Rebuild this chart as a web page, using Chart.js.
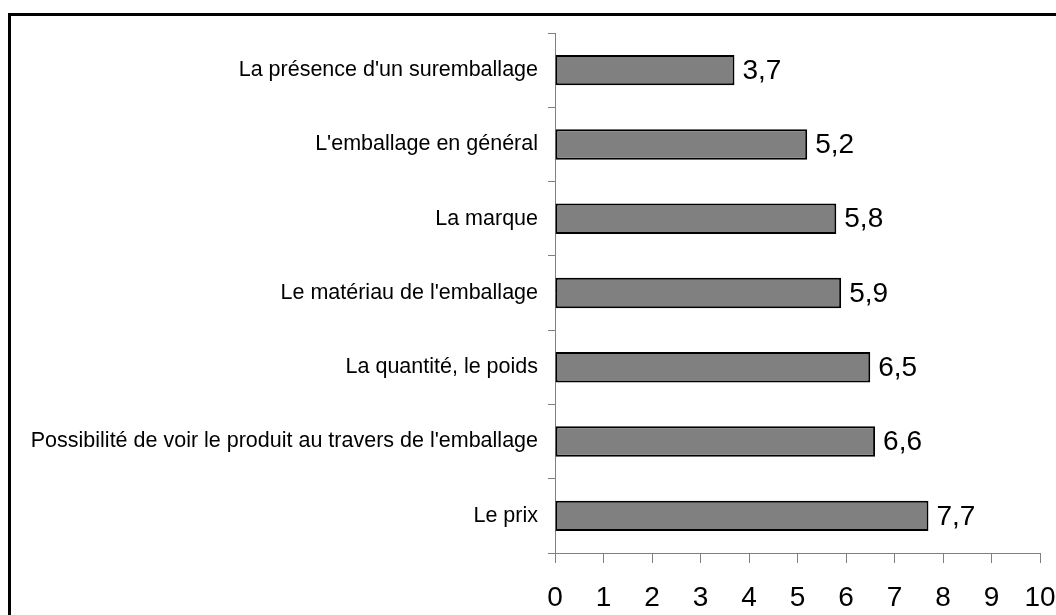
<!DOCTYPE html>
<html>
<head>
<meta charset="utf-8">
<script src="https://cdn.jsdelivr.net/npm/chart.js@4/dist/chart.umd.min.js"></script>
<style>
  html, body { margin:0; padding:0; background:#fff; overflow:hidden; width:1056px; height:615px; }
  #frame { position:absolute; left:8px; top:13px; width:2000px; height:2000px; border:3px solid #000; box-sizing:border-box; }
  #wrap { position:absolute; left:0; top:0; width:1056px; height:615px; }
</style>
</head>
<body>
<div id="frame"></div>
<div id="wrap"><canvas id="c" width="1056" height="615"></canvas></div>
<script>
const categories = [
  "La présence d'un suremballage",
  "L'emballage en général",
  "La marque",
  "Le matériau de l'emballage",
  "La quantité, le poids",
  "Possibilité de voir le produit au travers de l'emballage",
  "Le prix"
];
const values = [3.7, 5.2, 5.8, 5.9, 6.5, 6.6, 7.7];
const xTicks = [0, 1, 2, 3, 4, 5, 6, 7, 8, 9, 10];

const FONT = "'Liberation Sans', Arial, sans-serif";

const valueLabels = {
  id: 'valueLabels',
  afterDatasetsDraw(chart) {
    const ctx = chart.ctx;
    const meta = chart.getDatasetMeta(0);
    ctx.save();
    ctx.fillStyle = '#000';
    ctx.font = "28px " + FONT;
    ctx.textAlign = 'left';
    ctx.textBaseline = 'middle';
    meta.data.forEach((el, i) => {
      ctx.fillText(String(values[i]).replace('.', ','), el.x + 8, el.y + 1);
    });
    ctx.restore();
  }
};

new Chart(document.getElementById('c'), {
  type: 'bar',
  data: {
    labels: categories,
    datasets: [{
      data: values,
      backgroundColor: '#808080',
      borderColor: '#000',
      borderWidth: 2,
      borderSkipped: false,
      barPercentage: 0.41,
      categoryPercentage: 1.0
    }]
  },
  options: {
    indexAxis: 'y',
    responsive: false,
    animation: false,
    devicePixelRatio: 1,
    layout: { padding: { top: 33, right: 16, left: 0, bottom: 0 } },
    plugins: { legend: { display: false }, tooltip: { enabled: false } },
    scales: {
      x: {
        type: 'linear',
        min: xTicks[0],
        max: xTicks[xTicks.length - 1],
        afterBuildTicks(scale) { scale.ticks = xTicks.map(v => ({ value: v })); },
        afterFit(scale) { scale.height = 62; scale.paddingRight = 0; scale.paddingLeft = 0; },
        ticks: { color: '#000', font: { size: 28, family: FONT }, padding: 18, maxRotation: 0, autoSkip: false },
        grid: { drawOnChartArea: false, tickLength: 10, color: '#808080' },
        border: { color: '#808080', width: 1 }
      },
      y: {
        afterFit(scale) { scale.width = 555; },
        ticks: { color: '#000', font: { size: 21.5, family: FONT }, padding: 10, autoSkip: false },
        grid: { offset: true, drawOnChartArea: false, tickLength: 7, color: '#808080' },
        border: { color: '#808080', width: 1 }
      }
    }
  },
  plugins: [valueLabels]
});
</script>
</body>
</html>
